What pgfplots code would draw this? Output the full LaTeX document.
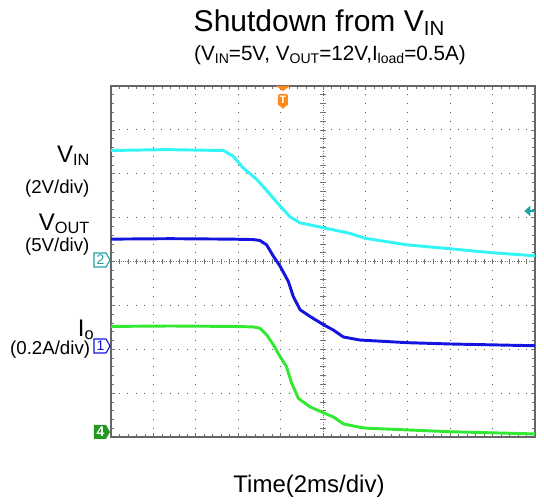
\documentclass[border=0pt]{standalone}
\usepackage{fontspec}
\setmainfont{Liberation Sans}
\usepackage{graphicx}
\usepackage{pgfplots}
\pgfplotsset{compat=1.18}
\definecolor{vin}{HTML}{33F5F5}
\definecolor{vout}{HTML}{1414E0}
\definecolor{io}{HTML}{33E833}
\definecolor{chtwo}{HTML}{1FA3A3}
\definecolor{chfour}{HTML}{229A22}
\definecolor{trig}{HTML}{FF8A1A}
% subscript as the scope software sets it: small, just below the baseline
\newcommand{\sub}[1]{\raisebox{-0.12em}{\scalebox{0.68}{#1}}}

\begin{document}
\begin{tikzpicture}[x=1pt,y=1pt]
% page frame (544 x 504 px at 0.75pt per px)
\path (-83.25,-50.25) rectangle (324.75,327.75);
\begin{axis}[
  at={(0,0)}, anchor=south west,
  scale only axis, width=318pt, height=263.25pt,
  xmin=0, xmax=10, ymin=0, ymax=8,
  xtick={0,...,10}, ytick={0,...,8},
  minor x tick num=4, minor y tick num=4,
  xticklabels={}, yticklabels={},
  tick align=inside,
  major tick length=3pt, minor tick length=2.5pt,
  tick style={black!55, line width=0.5pt},
  grid=major,
  x grid style={black!65, line width=0.7pt, dash pattern=on 0.7pt off 5.88pt, dash phase=0.35pt},
  y grid style={black!65, line width=0.7pt, dash pattern=on 0.7pt off 5.66pt, dash phase=0.35pt},
  axis line style={black!60, line width=1.2pt},
  clip=false,
]
% centre cross of the screen
\draw[black!55, line width=0.6pt, dash pattern=on 0.6pt off 1.2pt] (axis cs:0,4) -- (axis cs:10,4);
\draw[black!55, line width=0.6pt, dash pattern=on 0.6pt off 1.2pt] (axis cs:5,0) -- (axis cs:5,8);
\pgfplotsinvokeforeach{1,...,49}{
  \draw[black!55, line width=0.5pt] (axis cs:#1*0.2,3.94) -- (axis cs:#1*0.2,4.06);
}
\pgfplotsinvokeforeach{1,...,39}{
  \draw[black!55, line width=0.5pt] (axis cs:4.94,#1*0.2) -- (axis cs:5.06,#1*0.2);
}

% V_IN
\addplot[vin, line width=2.2pt, line join=round] coordinates {
 (0,6.53) (1.3,6.55) (2.65,6.53) (2.88,6.40) (3.12,6.13) (3.44,5.87) (3.75,5.53)
 (4.03,5.22) (4.22,5.02) (4.46,4.88) (5.01,4.77) (5.64,4.64) (5.99,4.53)
 (6.98,4.38) (8.0,4.29) (8.99,4.20) (10,4.13)
};
% V_OUT
\addplot[vout, line width=2.2pt, line join=round] coordinates {
 (0,4.51) (1.4,4.52) (2.81,4.51) (3.35,4.50) (3.51,4.48) (3.67,4.38) (3.83,4.12)
 (3.99,3.89) (4.18,3.55) (4.30,3.20) (4.46,2.90) (4.69,2.75) (5.01,2.56)
 (5.24,2.44) (5.48,2.28) (5.87,2.21) (6.98,2.15) (8.0,2.12) (10,2.08)
};
% I_o
\addplot[io, line width=2.2pt, line join=round] coordinates {
 (0,2.52) (1.4,2.53) (2.81,2.52) (3.35,2.51) (3.51,2.48) (3.67,2.33) (3.83,2.10)
 (3.99,1.83) (4.14,1.60) (4.26,1.23) (4.42,0.88) (4.69,0.69) (5.01,0.55)
 (5.24,0.46) (5.48,0.30) (5.87,0.22) (6.04,0.20) (8.0,0.12) (10,0.07)
};
\end{axis}

% channel markers on the left edge
\draw[chtwo, line width=0.8pt, fill=white] (-12.75,138) -- (-3.75,138) -- (-0.75,132.75) -- (-3.75,127.5) -- (-12.75,127.5) -- cycle;
\node[chtwo, font=\fontsize{10.5}{10.5}\selectfont] at (-7.8,132.75) {2};
\draw[vout, line width=0.8pt, fill=white] (-12.75,73.5) -- (-3.75,73.5) -- (-0.75,68.25) -- (-3.75,63) -- (-12.75,63) -- cycle;
\node[vout, font=\fontsize{10.5}{10.5}\selectfont] at (-7.8,68.25) {1};
\fill[chfour] (-12.75,9) -- (-3.75,9) -- (-0.75,3.75) -- (-3.75,-1.5) -- (-12.75,-1.5) -- cycle;
\node[white, font=\bfseries\fontsize{10.5}{10.5}\selectfont] at (-7.8,3.75) {4};

% trigger marker
\fill[trig] (123.75,263.25) -- (134.25,263.25) -- (129,259.5) -- cycle;
\fill[trig, rounded corners=1.5pt] (125.25,257.25) rectangle (132.75,248.25);
\fill[trig] (126.5,248.5) -- (131.5,248.5) -- (129,246) -- cycle;
\node[white, font=\bfseries\fontsize{8}{8}\selectfont] at (129,252.75) {T};

% trigger level arrow on the right edge
\draw[chtwo, line width=1.3pt] (312,169.5) -- (318,169.5);
\fill[chtwo] (310,169.5) -- (314.5,173.5) -- (314.5,165.5) -- cycle;

% titles and labels
\node[anchor=base, font=\fontsize{22.5}{26}\selectfont] at (156,303.75) {Shutdown from V\sub{IN}};
\node[anchor=base, font=\fontsize{15.5}{18}\selectfont] at (164.25,282) {(V\sub{IN}=5V, V\sub{OUT}=12V,I\sub{load}=0.5A)};
\node[anchor=base, font=\fontsize{18}{21}\selectfont] at (148.5,-42) {Time(2ms/div)};

\begin{scope}[every node/.style={inner sep=0pt, anchor=base east}]
\node[font=\fontsize{18}{21}\selectfont] at (-16,205.5) {V\sub{IN}};
\node[font=\fontsize{14}{16}\selectfont] at (-16,182.25) {(2V/div)};
\node[font=\fontsize{18}{21}\selectfont] at (-16,154.5) {V\sub{OUT}};
\node[font=\fontsize{14}{16}\selectfont] at (-16,138.75) {(5V/div)};
\node[font=\fontsize{18}{21}\selectfont] at (-12.75,75.5) {I\sub{o}};
\node[font=\fontsize{14}{16}\selectfont] at (-15.5,61.5) {(0.2A/div)};
\end{scope}
\end{tikzpicture}
\end{document}
